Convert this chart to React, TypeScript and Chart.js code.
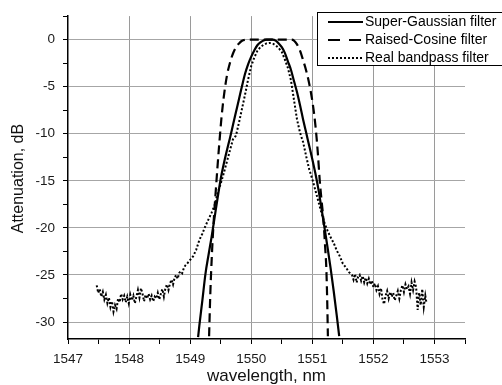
import React, { useEffect, useRef } from "react";
import { Chart, registerables } from "chart.js";

Chart.register(...registerables);

// Super-Gaussian filter
const SG_X = [1549.13, 1549.15, 1549.2, 1549.25, 1549.3, 1549.35, 1549.4, 1549.45, 1549.5, 1549.55, 1549.6, 1549.65, 1549.7, 1549.75, 1549.8, 1549.85, 1549.9, 1549.95, 1550.0, 1550.05, 1550.1, 1550.15, 1550.2, 1550.25, 1550.3, 1550.35, 1550.4, 1550.45, 1550.5, 1550.55, 1550.6, 1550.65, 1550.7, 1550.75, 1550.8, 1550.85, 1550.9, 1550.95, 1551.0, 1551.05, 1551.1, 1551.15, 1551.2, 1551.25, 1551.3, 1551.35, 1551.4, 1551.44];
const SG_Y = [-31.6, -30.4, -27.7, -24.9, -22.9, -21.0, -18.9, -16.8, -14.8, -13.2, -11.8, -10.5, -9.1, -7.7, -6.3, -4.9, -3.6, -2.6, -1.8, -1.15, -0.6, -0.3, -0.1, 0, 0, 0, -0.1, -0.4, -0.8, -1.4, -2.3, -3.2, -4.4, -5.6, -7.0, -8.5, -9.9, -11.3, -12.7, -14.2, -15.9, -17.9, -20.0, -22.1, -24.3, -26.7, -29.3, -31.5];

// Raised-Cosine filter
const RC_X = [1549.31, 1549.33, 1549.36, 1549.39, 1549.42, 1549.45, 1549.48, 1549.51, 1549.55, 1549.6, 1549.65, 1549.7, 1549.75, 1549.8, 1549.85, 1549.9, 1549.95, 1550.3, 1550.65, 1550.7, 1550.75, 1550.8, 1550.85, 1550.9, 1550.95, 1551.0, 1551.03, 1551.06, 1551.09, 1551.12, 1551.15, 1551.18, 1551.21, 1551.23, 1551.245, 1551.255];
const RC_Y = [-31.5, -27.0, -22.3, -18.8, -16.0, -13.3, -10.8, -8.5, -6.1, -3.9, -2.5, -1.5, -0.8, -0.4, -0.12, -0.02, 0, 0, 0, -0.1, -0.5, -1.2, -2.2, -3.3, -4.7, -6.5, -7.9, -9.7, -12.0, -14.8, -17.0, -19.0, -22.0, -24.4, -28.0, -31.5];

// Real bandpass filter
const RB_X = [
  1547.47, 1547.495, 1547.52, 1547.545, 1547.57, 1547.595, 1547.62, 1547.645, 1547.67, 1547.695,
  1547.72, 1547.745, 1547.77, 1547.795, 1547.82, 1547.845, 1547.87, 1547.895, 1547.92, 1547.945,
  1547.97, 1547.995, 1548.02, 1548.045, 1548.07, 1548.095, 1548.12, 1548.145, 1548.17, 1548.195,
  1548.22, 1548.245, 1548.27, 1548.295, 1548.32, 1548.345, 1548.37, 1548.395, 1548.42, 1548.445,
  1548.47, 1548.495, 1548.52, 1548.545, 1548.57, 1548.595, 1548.62, 1548.645, 1548.67, 1548.695,
  1548.72, 1548.745, 1548.77, 1548.795, 1548.82, 1548.845, 1548.87, 1548.895,
  1548.92, 1548.95, 1549.0, 1549.05, 1549.1, 1549.15, 1549.2, 1549.25, 1549.3, 1549.35,
  1549.4, 1549.45, 1549.5, 1549.55, 1549.6, 1549.65, 1549.7, 1549.75, 1549.8, 1549.85,
  1549.9, 1549.95, 1550.0, 1550.05, 1550.1, 1550.15, 1550.2, 1550.25, 1550.3, 1550.35,
  1550.4, 1550.45, 1550.5, 1550.55, 1550.6, 1550.65, 1550.7, 1550.75, 1550.8, 1550.85,
  1550.9, 1550.95, 1551.0, 1551.05, 1551.1, 1551.15, 1551.2, 1551.25, 1551.3, 1551.35,
  1551.4, 1551.45, 1551.5, 1551.55, 1551.6, 1551.65,
  1551.675, 1551.7, 1551.725, 1551.75, 1551.775, 1551.8, 1551.825, 1551.85, 1551.875, 1551.9,
  1551.925, 1551.95, 1551.975, 1552.0, 1552.025, 1552.05, 1552.075, 1552.1, 1552.125, 1552.15,
  1552.175, 1552.2, 1552.225, 1552.25, 1552.275, 1552.3, 1552.325, 1552.35, 1552.375, 1552.4,
  1552.425, 1552.45, 1552.475, 1552.5, 1552.525, 1552.55, 1552.575, 1552.6, 1552.625, 1552.65,
  1552.675, 1552.7, 1552.725, 1552.75, 1552.775, 1552.8, 1552.825, 1552.85, 1552.87,
];
const RB_Y = [
  -26.1, -26.9, -26.5, -27.3, -26.8, -27.6, -27.1, -28.0, -27.4, -28.4,
  -27.8, -28.9, -28.2, -28.6, -27.5, -27.9, -27.0, -27.6, -27.2, -27.9,
  -27.3, -28.0, -27.1, -27.7, -27.2, -28.0, -27.3, -26.6, -27.4, -26.4,
  -27.0, -27.8, -27.1, -27.5, -27.0, -27.6, -27.2, -27.8, -27.3, -27.5,
  -26.9, -27.6, -27.0, -26.5, -27.3, -26.4, -26.0, -26.6, -25.9, -25.5,
  -26.0, -25.3, -25.0, -25.4, -24.8, -24.6, -24.8, -24.3,
  -24.0, -23.8, -23.4, -23.0, -22.3, -21.3, -20.6, -19.8, -19.1, -18.4,
  -17.6, -16.3, -15.3, -14.2, -13.0, -11.8, -10.6, -10.2, -8.8, -7.3,
  -5.8, -4.2, -2.8, -1.9, -1.2, -0.8, -0.55, -0.4, -0.35, -0.4,
  -0.6, -0.9, -1.3, -2.1, -3.0, -4.3, -6.4, -8.5, -9.9, -10.9,
  -12.4, -13.8, -14.8, -16.0, -17.2, -18.4, -19.5, -20.3, -21.0, -21.6,
  -22.4, -23.0, -23.8, -24.2, -24.7, -25.0,
  -25.5, -24.9, -25.8, -25.2, -25.0, -25.6, -25.1, -25.8, -25.3, -25.9,
  -25.4, -26.0, -25.6, -26.3, -25.9, -26.6, -26.2, -27.0, -26.4, -27.6,
  -28.1, -27.2, -26.7, -27.5, -26.8, -27.3, -26.9, -27.7, -27.2, -26.7,
  -27.5, -26.6, -26.1, -26.8, -26.0, -26.5, -26.2, -27.0, -25.8, -26.6,
  -25.7, -26.3, -28.7, -26.9, -28.2, -26.5, -28.4, -27.2, -28.0,
];

const X_TICKS = [1547, 1547.5, 1548, 1548.5, 1549, 1549.5, 1550, 1550.5, 1551, 1551.5, 1552, 1552.5, 1553, 1553.5];
const X_LABELS = [1547, 1548, 1549, 1550, 1551, 1552, 1553];
const Y_TICKS = [2.5, 0, -2.5, -5, -7.5, -10, -12.5, -15, -17.5, -20, -22.5, -25, -27.5, -30];
const Y_LABELS = [0, -5, -10, -15, -20, -25, -30];

const SERIES_NAMES = ["Super-Gaussian filter", "Raised-Cosine filter", "Real bandpass filter"];
const X_TITLE = "wavelength, nm";
const Y_TITLE = "Attenuation, dB";

const FONT = '"Liberation Sans", Arial, Helvetica, sans-serif';

const toPoints = (xs: number[], ys: number[]) => xs.map((x, i) => ({ x, y: ys[i] }));

const DASHES = [[], [9, 5], [2, 2]];

export default function App() {
  const ref = useRef<HTMLCanvasElement | null>(null);

  useEffect(() => {
    if (!ref.current) return;

    const decor = {
      id: "decor",
      afterDraw(chart: any) {
        const ctx = chart.ctx as CanvasRenderingContext2D;
        ctx.save();
        // axis titles
        ctx.fillStyle = "#111";
        ctx.textAlign = "center";
        ctx.textBaseline = "middle";
        ctx.font = `17px ${FONT}`;
        ctx.fillText(X_TITLE, (chart.chartArea.left + chart.chartArea.right) / 2, 376);
        ctx.save();
        ctx.font = `16px ${FONT}`;
        ctx.translate(19, (chart.chartArea.top + chart.chartArea.bottom) / 2 + 1);
        ctx.rotate(-Math.PI / 2);
        ctx.fillText(Y_TITLE, 0, 0);
        ctx.restore();

        // legend
        const bx = 317.5, by = 12.5, bw = 200, bh = 53;
        ctx.fillStyle = "#fff";
        ctx.fillRect(bx, by, bw, bh);
        ctx.strokeStyle = "#000";
        ctx.lineWidth = 1;
        ctx.strokeRect(bx, by, bw, bh);
        const rows = [22, 40, 58];
        SERIES_NAMES.forEach((name, i) => {
          ctx.beginPath();
          ctx.setLineDash(i === 1 ? [12, 9] : DASHES[i]);
          ctx.lineWidth = 2;
          ctx.strokeStyle = "#000";
          ctx.moveTo(328, rows[i]);
          ctx.lineTo(363, rows[i]);
          ctx.stroke();
          ctx.setLineDash([]);
          ctx.fillStyle = "#000";
          ctx.font = `14px ${FONT}`;
          ctx.textAlign = "left";
          ctx.textBaseline = "middle";
          ctx.fillText(name, 365, rows[i] + 0.5);
        });
        ctx.restore();
      },
    };

    const chart = new Chart(ref.current, {
      type: "line",
      data: {
        datasets: [
          {
            label: SERIES_NAMES[0],
            data: toPoints(SG_X, SG_Y),
            borderColor: "#000",
            borderWidth: 2.2,
            pointRadius: 0,
            cubicInterpolationMode: "monotone",
            fill: false,
          },
          {
            label: SERIES_NAMES[1],
            data: toPoints(RC_X, RC_Y),
            borderColor: "#000",
            borderWidth: 2.2,
            borderDash: DASHES[1],
            pointRadius: 0,
            cubicInterpolationMode: "monotone",
            fill: false,
          },
          {
            label: SERIES_NAMES[2],
            data: toPoints(RB_X, RB_Y),
            borderColor: "#000",
            borderWidth: 2,
            borderDash: DASHES[2],
            pointRadius: 0,
            tension: 0,
            fill: false,
          },
        ],
      },
      options: {
        animation: false,
        responsive: false,
        devicePixelRatio: 1,
        layout: { padding: { top: 12, right: 37, left: 0, bottom: 0 } },
        plugins: { legend: { display: false }, tooltip: { enabled: false } },
        scales: {
          x: {
            type: "linear",
            min: 1547,
            max: 1553.5,
            afterBuildTicks: (s: any) => {
              s.ticks = X_TICKS.map((v) => ({ value: v }));
            },
            afterFit: (s: any) => {
              s.height = 46;
            },
            ticks: {
              autoSkip: false,
              maxRotation: 0,
              padding: 7,
              color: "#1a1a1a",
              font: { family: FONT, size: 13.5 },
              callback: (v: any) => (X_LABELS.includes(Number(v)) ? String(v) : ""),
            },
            grid: {
              color: (c: any) => (c.tick && X_LABELS.includes(c.tick.value) && c.tick.value !== 1547 ? "#9a9a9a" : "rgba(0,0,0,0)"),
              tickColor: "#000",
              tickLength: 5,
              lineWidth: 1,
            },
            border: { color: "#000", width: 1.5 },
          },
          y: {
            type: "linear",
            min: -31.8,
            max: 2.5,
            afterBuildTicks: (s: any) => {
              s.ticks = Y_TICKS.map((v) => ({ value: v }));
            },
            afterFit: (s: any) => {
              s.width = 68;
            },
            ticks: {
              autoSkip: false,
              padding: 8,
              color: "#1a1a1a",
              font: { family: FONT, size: 13.5 },
              callback: (v: any) => (Y_LABELS.includes(Number(v)) ? String(v) : ""),
            },
            grid: {
              color: (c: any) => (c.tick && Y_LABELS.includes(c.tick.value) ? "#a6a6a6" : "rgba(0,0,0,0)"),
              tickColor: "#000",
              tickLength: 5,
              lineWidth: 1,
            },
            border: { color: "#000", width: 1.5 },
          },
        },
      },
      plugins: [decor],
    } as any);

    return () => chart.destroy();
  }, []);

  return (
    <div style={{ position: "fixed", left: 0, top: 0, width: 502, height: 385, background: "#fff" }}>
      <canvas ref={ref} width={502} height={385} style={{ width: 502, height: 385, display: "block" }} />
    </div>
  );
}
